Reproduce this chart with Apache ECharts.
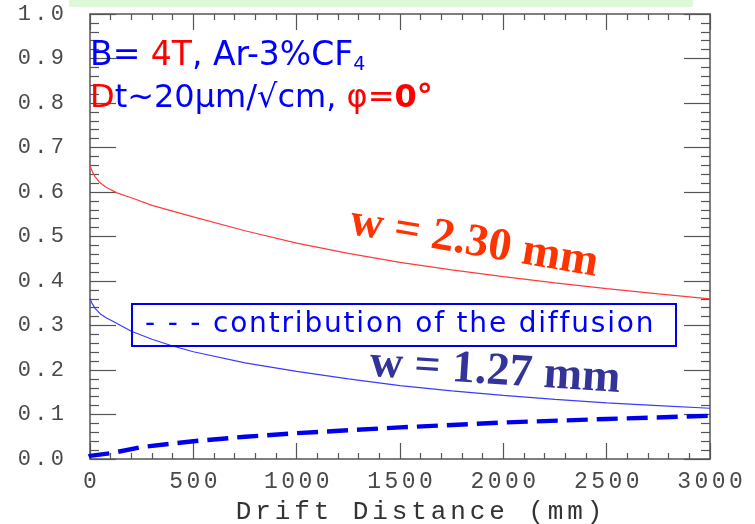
<!DOCTYPE html>
<html><head><meta charset="utf-8">
<script src="https://cdn.jsdelivr.net/npm/echarts@6/dist/echarts.min.js"></script>
<style>html,body{margin:0;padding:0;background:#fff}#c{width:755px;height:524px}</style>
</head><body><div id="c"></div>
<script>
// ---- data ----
const wideX   = [0, 10, 25, 50, 80, 130, 200, 300, 400, 500, 750, 1000, 1250, 1500, 1750, 2000, 2250, 2500, 2750, 3000];
const wideY   = [0.660, 0.647, 0.634, 0.620, 0.610, 0.598, 0.587, 0.570, 0.557, 0.544, 0.513, 0.485, 0.462, 0.442, 0.425, 0.410, 0.396, 0.383, 0.371, 0.360];
const narrowX = [0, 8, 24, 50, 80, 113, 200, 300, 400, 500, 750, 1000, 1250, 1500, 1750, 2000, 2250, 2500, 2750, 3000];
const narrowY = [0.361, 0.351, 0.339, 0.326, 0.317, 0.309, 0.287, 0.269, 0.254, 0.241, 0.216, 0.197, 0.180, 0.165, 0.153, 0.143, 0.134, 0.126, 0.120, 0.114];
const diffX   = [-85, 0, 113, 250, 500, 750, 1000, 1500, 2000, 2500, 3000];
const diffY   = [-0.012, 0.007, 0.014, 0.027, 0.040, 0.050, 0.058, 0.071, 0.082, 0.090, 0.097];
const xMin = 0, xMax = 3000, xStep = 500;
const yMin = 0, yMax = 1.0, yStep = 0.1;
const xTitle = 'Drift Distance (mm)';
const labelWide = 'w = 2.30 mm';
const labelNarrow = 'w = 1.27 mm';
const legendText = '- - - contribution of the diffusion';

// extra letter spacing for chosen font families, drawn glyph by glyph
const spacingByFamily = { 'Liberation Mono': 0.15, 'widesp': 0.065 };
(function(){
  const P = CanvasRenderingContext2D.prototype;
  const orig = P.fillText;
  P.fillText = function(t, x, y, w){
    const f = this.font || '';
    const s = String(t);
    let factor = 0;
    for (const k in spacingByFamily) if (f.indexOf(k) >= 0) { factor = spacingByFamily[k]; break; }
    if (factor > 0 && s.length > 1) {
      const m = f.match(/(\d+(?:\.\d+)?)px/);
      const sz = m ? parseFloat(m[1]) : 12;
      const sp = sz * factor;
      const chars = Array.from(s);
      const ws = chars.map(c => this.measureText(c).width);
      const total = ws.reduce((a, b) => a + b, 0) + sp * (chars.length - 1);
      const al = this.textAlign;
      let x0 = x;
      if (al === 'center') x0 = x - total / 2;
      else if (al === 'right' || al === 'end') x0 = x - total;
      this.textAlign = 'left';
      for (let i = 0; i < chars.length; i++) {
        orig.call(this, chars[i], x0, y);
        x0 += ws[i] + sp;
      }
      this.textAlign = al;
      return;
    }
    return (w === undefined) ? orig.call(this, t, x, y) : orig.call(this, t, x, y, w);
  };
})();

const zip = (a, b) => a.map((v, i) => [v, b[i]]);
const frame = '#555';

function xAx(pos, labels) {
  return {
    type: 'value', min: xMin, max: xMax, interval: xStep, position: pos,
    axisLine: { show: true, onZero: false, lineStyle: { color: frame, width: 1.5 } },
    axisTick: { show: true, inside: true, length: 16, lineStyle: { color: frame, width: 1.2 } },
    minorTick: { show: true, splitNumber: 5, length: 6, lineStyle: { color: frame, width: 1.2 } },
    splitLine: { show: false },
    axisLabel: labels ? { show: true, margin: 11, color: '#4a4a4a',
      fontFamily: 'Liberation Mono', fontSize: 23, formatter: v => String(v) } : { show: false },
    name: labels ? xTitle : '',
    nameLocation: 'middle', nameGap: 40,
    nameTextStyle: { fontFamily: 'Liberation Mono', fontSize: 26, color: '#333', padding: [0, 0, 0, 38] }
  };
}
function yAx(pos, labels) {
  return {
    type: 'value', min: yMin, max: yMax, interval: yStep, position: pos,
    axisLine: { show: true, onZero: false, lineStyle: { color: frame, width: 1.5 } },
    axisTick: { show: true, inside: true, length: 26, lineStyle: { color: frame, width: 1.2 } },
    minorTick: { show: true, splitNumber: 5, length: 9, lineStyle: { color: frame, width: 1.2 } },
    splitLine: { show: false },
    axisLabel: labels ? { show: true, margin: 26, color: '#4a4a4a',
      fontFamily: 'Liberation Mono', fontSize: 22, formatter: v => v.toFixed(1) } : { show: false }
  };
}

const chart = echarts.init(document.getElementById('c'), null, { renderer: 'canvas' });
chart.setOption({
  backgroundColor: '#fff',
  animation: false,
  grid: { left: 90, right: 45, top: 14, bottom: 65, containLabel: false, outerBoundsMode: 'none' },
  xAxis: [xAx('bottom', true), xAx('top', false)],
  yAxis: [yAx('left', true), yAx('right', false)],
  series: [
    { type: 'line', data: zip(wideX, wideY), showSymbol: false, smooth: false,
      lineStyle: { color: '#ff3b3b', width: 1.2 }, z: 3 },
    { type: 'line', data: zip(narrowX, narrowY), showSymbol: false, smooth: false,
      lineStyle: { color: '#3b3bff', width: 1.2 }, z: 3 },
    { type: 'line', data: zip(diffX, diffY), showSymbol: false, smooth: false, clip: false,
      lineStyle: { color: '#0000ee', width: 4.4, type: [21, 9], dashOffset: 12 }, z: 4 }
  ],
  graphic: [
    { type: 'rect', shape: { x: 69, y: 0, width: 624, height: 7 }, style: { fill: '#e0f8da' }, z: 1 },
    { type: 'text', x: 90, y: 56, z: 10,
      style: { text: '{b|B= }{r|4T}{b|, Ar-3%CF}{s|4}', textAlign: 'left', textVerticalAlign: 'middle',
        align: 'left', verticalAlign: 'middle',
        rich: {
          b: { fill: '#0000ff', fontFamily: 'DejaVu Sans', fontSize: 33, lineHeight: 38 },
          r: { fill: '#ff0000', fontFamily: 'DejaVu Sans', fontSize: 33, lineHeight: 38 },
          s: { fill: '#0000ff', fontFamily: 'DejaVu Sans', fontSize: 19, lineHeight: 21, verticalAlign: 'bottom' }
        } } },
    { type: 'text', x: 90, y: 99, z: 10,
      style: { text: '{r|D}{b|t~20μm/√cm, }{r|φ=}{rb|0°}', textAlign: 'left', textVerticalAlign: 'middle',
        align: 'left', verticalAlign: 'middle',
        rich: {
          b: { fill: '#0000ff', fontFamily: 'DejaVu Sans', fontSize: 32, lineHeight: 38 },
          r: { fill: '#ff0000', fontFamily: 'DejaVu Sans', fontSize: 32, lineHeight: 38 },
          rb: { fill: '#ff0000', fontFamily: 'DejaVu Sans', fontSize: 32, fontWeight: 'bold', lineHeight: 38 }
        } } },
    { type: 'text', x: 474, y: 243, rotation: -0.17, z: 10,
      style: { text: labelWide, fill: '#ff3300', font: 'bold 46px "Liberation Serif"',
        textAlign: 'center', textVerticalAlign: 'middle', align: 'center', verticalAlign: 'middle' } },
    { type: 'text', x: 495, y: 372, rotation: -0.065, z: 10,
      style: { text: labelNarrow, fill: '#333399', font: 'bold 46px "Liberation Serif"',
        textAlign: 'center', textVerticalAlign: 'middle', align: 'center', verticalAlign: 'middle' } },
    { type: 'rect', shape: { x: 132, y: 304, width: 544, height: 42 }, z: 10,
      style: { fill: 'transparent', stroke: '#0000ee', lineWidth: 2 } },
    { type: 'text', x: 145, y: 325, z: 11,
      style: { text: legendText, fill: '#0000ff', font: '28px "DejaVu Sans", widesp',
        textAlign: 'left', textVerticalAlign: 'middle', align: 'left', verticalAlign: 'middle' } }
  ]
});
</script></body></html>
